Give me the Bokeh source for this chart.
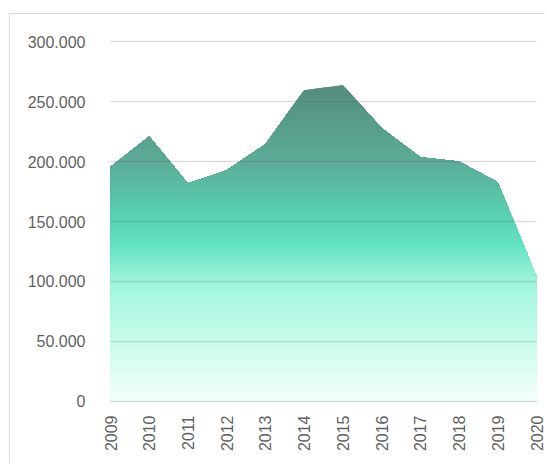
import numpy as np
from bokeh.plotting import figure
from bokeh.models import FixedTicker
from bokeh.embed import file_html
from bokeh.resources import INLINE

# ---- data ----
years = [2009, 2010, 2011, 2012, 2013, 2014, 2015, 2016, 2017, 2018, 2019, 2020]
values = [195600, 221000, 181700, 192800, 214500, 259600, 263800, 228000, 203600, 200000, 182700, 104000]
year_labels = ["2009", "2010", "2011", "2012", "2013", "2014", "2015", "2016", "2017", "2018", "2019", "2020"]
y_ticks = [0, 50000, 100000, 150000, 200000, 250000, 300000]
y_tick_labels = ["0", "50.000", "100.000", "150.000", "200.000", "250.000", "300.000"]

y_max = 300000
pad = 1000  # keep the 0 and 300.000 grid lines inside the frame

p = figure(width=536, height=450, output_backend="svg", toolbar_location=None,
           x_range=(years[0], years[-1]), y_range=(-pad, y_max + pad),
           min_border_left=100, min_border_right=10, min_border_top=26, min_border_bottom=62,
           styles={"margin-left": "9px", "margin-top": "13px",
                   "border-left": "1px solid #dcdcdc", "border-top": "1px solid #dcdcdc"})
p.outline_line_color = None
p.background_fill_color = "white"

# ---- gradient colour ramp (style) ----
vmax = max(values)
stop_vals = np.array([0, 50000, 100000, 130000, 150000, 200000, vmax], dtype=float)
stop_cols = np.array([
    [245, 255, 252],
    [200, 252, 236],
    [158, 245, 220],
    [100, 226, 192],
    [88, 212, 180],
    [92, 172, 152],
    [84, 140, 126],
], dtype=float)


def ramp(v):
    r, g, b = (int(round(np.interp(v, stop_vals, stop_cols[:, c]))) for c in range(3))
    return "#%02x%02x%02x" % (r, g, b)


def capped(xs, ys, level):
    """The series line capped at a level (exact crossing points inserted)."""
    ox, oy = [], []
    for i in range(len(xs)):
        if i > 0:
            y0, y1 = ys[i - 1], ys[i]
            if (y0 - level) * (y1 - level) < 0:
                t = (level - y0) / (y1 - y0)
                ox.append(xs[i - 1] + t * (xs[i] - xs[i - 1]))
                oy.append(level)
        ox.append(xs[i])
        oy.append(min(ys[i], level))
    return ox, oy


# the area itself, in the top colour of the gradient
p.varea(x=years, y1=0, y2=values, fill_color=ramp(vmax))

# gradient: successively lower caps painted over it
n_levels = 130
levels = np.linspace(vmax, 0, n_levels + 1)[1:-1]
step = vmax / n_levels
for lv in levels:
    cx, cy = capped(years, values, lv)
    p.varea(x=cx, y1=0, y2=cy, fill_color=ramp(lv - step / 2))

# ---- grid ----
p.xgrid.grid_line_color = None
p.ygrid.level = "annotation"
p.ygrid.grid_line_color = "#555555"
p.ygrid.grid_line_alpha = 0.2
p.ygrid.grid_line_width = 1.4

# ---- axes ----
p.yaxis.ticker = FixedTicker(ticks=y_ticks)
p.yaxis.major_label_overrides = {t: l for t, l in zip(y_ticks, y_tick_labels)}
p.xaxis.ticker = FixedTicker(ticks=years)
p.xaxis.major_label_overrides = {y: l for y, l in zip(years, year_labels)}
p.xaxis.major_label_orientation = np.pi / 2

for ax in (p.xaxis, p.yaxis):
    ax.axis_line_color = None
    ax.major_tick_line_color = None
    ax.minor_tick_line_color = None
    ax.major_tick_out = 0
    ax.major_tick_in = 0
    ax.major_label_text_font = "Liberation Sans"
    ax.major_label_text_font_size = "16px"
    ax.major_label_text_color = "#5f5f5f"
p.yaxis.major_label_standoff = 25
p.xaxis.major_label_standoff = 13

open("out.html", "w").write(file_html(p, INLINE))
